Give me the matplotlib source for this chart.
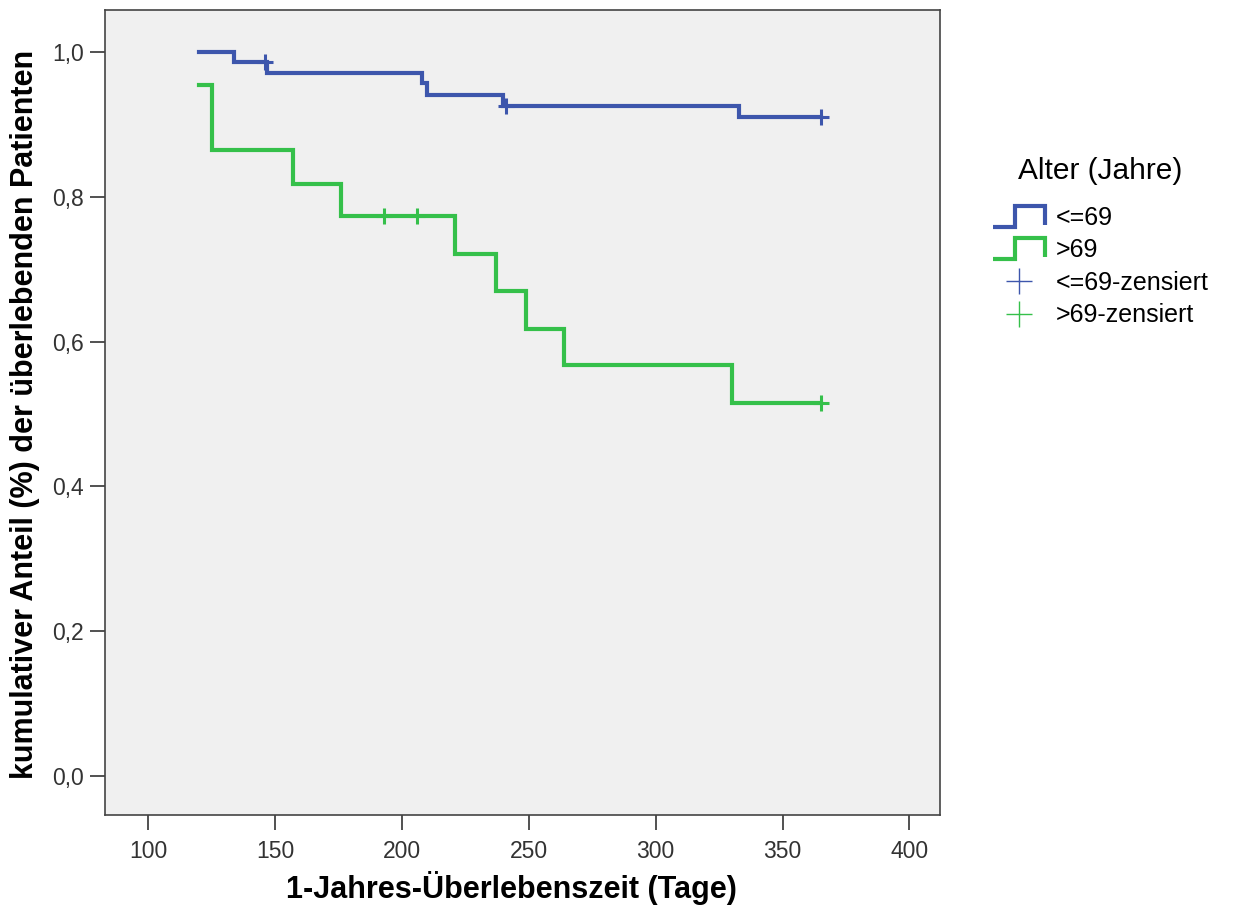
import numpy as np
import matplotlib
matplotlib.use("Agg")
import matplotlib.pyplot as plt
from matplotlib.lines import Line2D
from matplotlib.legend_handler import HandlerBase
from matplotlib.ticker import FuncFormatter

# --- Data ---
young_t = [120, 134, 147, 208, 210, 240, 333, 365]
young_s = [1.000, 0.986, 0.971, 0.957, 0.941, 0.925, 0.910, 0.910]
young_cens_t = [146, 241, 365]
young_cens_s = [0.986, 0.925, 0.910]

old_t = [120, 125, 157, 176, 221, 237, 249, 264, 330, 365]
old_s = [0.955, 0.864, 0.818, 0.773, 0.721, 0.670, 0.618, 0.567, 0.515, 0.515]
old_cens_t = [193, 206, 365]
old_cens_s = [0.773, 0.773, 0.515]

xticks = [100, 150, 200, 250, 300, 350, 400]
yticks = [0.0, 0.2, 0.4, 0.6, 0.8, 1.0]

BLUE = "#3d56ac"
GREEN = "#35c04a"
FONT = ["Liberation Sans", "DejaVu Sans"]

plt.rcParams["font.family"] = FONT


class StepHandler(HandlerBase):
    """Draws the little step icon used by SPSS survival legends."""
    def create_artists(self, legend, orig_handle, xdescent, ydescent,
                       width, height, fontsize, trans):
        lo = -ydescent - 0.1 * height
        hi = -ydescent + 1.1 * height
        x0 = -xdescent
        xs = [x0, x0 + 0.42 * width, x0 + 0.42 * width, x0 + width, x0 + width]
        ys = [lo, lo, hi, hi, lo + 0.1 * height]
        ln = Line2D(xs, ys, color=orig_handle.get_color(),
                    lw=orig_handle.get_linewidth(), solid_joinstyle="miter",
                    solid_capstyle="butt", transform=trans)
        return [ln]


fig = plt.figure(figsize=(12.35, 9.06), dpi=100)
ax = fig.add_axes([0.085, 0.1004, 0.676, 0.8886])
ax.set_facecolor("#f0f0f0")

l1, = ax.step(young_t, young_s, where="post", color=BLUE, lw=3,
              solid_joinstyle="miter")
l2, = ax.step(old_t, old_s, where="post", color=GREEN, lw=3,
              solid_joinstyle="miter")
ax.plot(young_cens_t, young_cens_s, ls="none", marker="+", ms=11, mew=2.2,
        color=BLUE)
ax.plot(old_cens_t, old_cens_s, ls="none", marker="+", ms=11, mew=2.2,
        color=GREEN)

ax.set_xlim(83, 412)
ax.set_ylim(-0.054, 1.058)
ax.set_xticks(xticks)
ax.set_yticks(yticks)
ax.yaxis.set_major_formatter(FuncFormatter(lambda v, p: f"{v:.1f}".replace(".", ",")))
ax.tick_params(axis="x", direction="out", length=11, width=1.2, labelsize=16.5,
               pad=7, colors="#333333")
ax.tick_params(axis="y", direction="out", length=11, width=1.2, labelsize=16.5,
               pad=4, colors="#333333")
for sp in ax.spines.values():
    sp.set_color("#444444")
    sp.set_linewidth(1.2)

ax.set_xlabel("1-Jahres-Überlebenszeit (Tage)", fontsize=22, fontweight="bold")
ax.set_ylabel("kumulativer Anteil (%) der überlebenden Patienten", fontsize=22,
              fontweight="bold")
ax.xaxis.set_label_coords(0.487, -0.0907)
ax.xaxis.label.set_va("center")
ax.yaxis.set_label_coords(-0.096, 0.4975)
ax.yaxis.label.set_va("center")

c1 = Line2D([], [], ls="none", marker="+", ms=19, mew=1, color=BLUE)
c2 = Line2D([], [], ls="none", marker="+", ms=19, mew=1, color=GREEN)
leg = fig.legend([l1, l2, c1, c2],
                 ["<=69", ">69", "<=69-zensiert", ">69-zensiert"],
                 handler_map={l1: StepHandler(), l2: StepHandler()},
                 title="Alter (Jahre)", loc="upper left",
                 bbox_to_anchor=(0.804, 0.8267), frameon=False,
                 fontsize=18, title_fontsize=21.5, handlelength=2.1,
                 handletextpad=0.4, labelspacing=0.34, borderaxespad=0,
                 borderpad=0)
leg._legend_box.align = "center"
leg._legend_box.sep = 15

fig.savefig("out.png", dpi=100)
